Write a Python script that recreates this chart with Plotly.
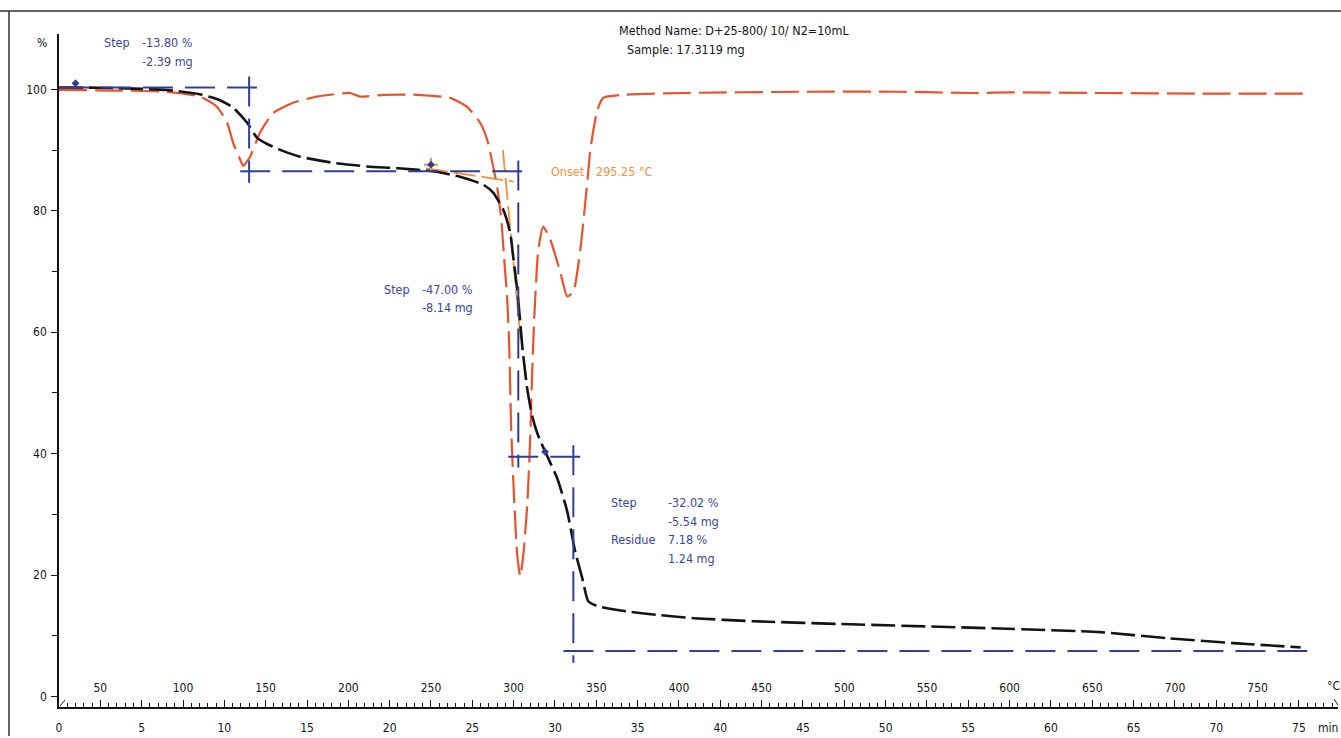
import plotly.graph_objects as go

# ---------------- data ----------------
# TGA mass-loss curve: temperature (°C) vs. mass (%)
tga_temp = [25, 35, 60, 90, 110, 120.6, 130.3, 138.8, 144.8, 150.9, 160, 170.9, 190.8,
            211.4, 230, 251.3, 267.6, 281.6, 287.6, 293.7, 297.9, 299.7, 302.1, 304.0,
            305.2, 308.2, 311.2, 314.9, 320.3, 326.4, 332.4, 337.2, 341.5, 345.1, 350.6,
            368.7, 388.7, 408.7, 445.0, 503.7, 594.4, 654.9, 695.4, 735.3, 776]
tga_mass = [100.3, 100.3, 100.2, 99.9, 99.2, 98.4, 97.0, 94.5, 92.0, 91.0, 89.9, 88.9, 87.9,
            87.3, 87.0, 86.5, 85.6, 84.3, 83.0, 80.2, 76.4, 72.5, 67.1, 61.6,
            57.7, 50.7, 46.2, 42.9, 39.6, 35.9, 30.5, 23.9, 19.5, 15.7, 14.9,
            14.0, 13.4, 12.9, 12.4, 11.9, 11.2, 10.6, 9.6, 8.8, 8.1]

# DTG curve (scaled onto the same % axis)
dtg_temp = [25, 60, 90, 110.4, 120.6, 126.7, 130.3, 134.6, 136.4, 140.6, 146.6, 154.5,
            166.6, 181.1, 201.0, 207.2, 221.1, 241.6, 261.6, 271.9, 279.7, 284.0, 287.6,
            290.0, 292.5, 294.3, 296.1, 297.3, 298.5, 300.4, 302.2, 304.0, 305.8, 308.2,
            310.0, 311.2, 312.4, 314.9, 317.9, 322.1, 328.2, 332.4, 336.1, 340.3, 344.5,
            346.4, 350.6, 354.2, 366.3, 402.6, 473.4, 533.9, 579, 600, 654.9, 715.4, 778]
dtg_val = [99.9, 99.8, 99.6, 98.8, 97.1, 94.5, 91.2, 88.4, 87.4, 88.9, 92.9, 96.1,
           97.8, 98.8, 99.4, 98.8, 99.1, 99.1, 98.6, 97.1, 94.5, 91.7, 87.3,
           84.0, 78.6, 72.0, 65.4, 58.0, 44.1, 31.8, 23.2, 19.8, 23.2, 31.4,
           42.4, 53.4, 62.1, 73.6, 77.4, 75.3, 69.9, 65.9, 66.6, 73.6, 84.6,
           90.1, 96.6, 98.6, 99.1, 99.4, 99.6, 99.6, 99.4, 99.5, 99.4, 99.3, 99.3]

# Onset construction (tangents) and result
onset_temp = 295.25
base_tan_temp = [247, 300]
base_tan_pct = [87.0, 84.8]
slope_tan_temp = [293.5, 304.5]
slope_tan_pct = [90.0, 58.0]

# Step evaluation
start_level = 100.3
step_pct = [-13.80, -47.00, -32.02]
step_mg = [-2.39, -8.14, -5.54]
step_temp = [140.0, 302.8, 336.1]
residue_pct = 7.18
residue_mg = 1.24

method_name = "Method Name: D+25-800/ 10/ N2=10mL"
sample_text = "Sample: 17.3119 mg"

# axis ticks
pct_ticks = [0, 20, 40, 60, 80, 100]
pct_minor = [10, 30, 50, 70, 90]
min_labels = list(range(0, 80, 5))
temp_ticks = list(range(50, 800, 50))

# ---------------- styling ----------------
FONT = "DejaVu Sans Condensed, Liberation Sans Narrow, Arial Narrow, sans-serif"
BLACK = "#141414"
RED = "#E9532B"
BLUE = "#2F3E97"
TXT_BLUE = "#3A4899"
ORANGE = "#F2913A"
TXT = 12.5
TICK = 12

W, H = 1341, 738
L, R, T, B = 59, 3, 34, 29
PW, PH = W - L - R, H - T - B


def px(x):
    return (x - L) / PW


def py(y):
    return (H - B - y) / PH


levels = [start_level]
for s in step_pct:
    levels.append(levels[-1] + s)

# minutes axis span; the programme heats at 10 °C/min from 25 °C
RATE, T0 = 10, 25
tmin_range = [0, (W - R - L) / 16.533]
temp_range = [T0 + RATE * tmin_range[0], T0 + RATE * tmin_range[1]]

# long ticks at every labelled minute and every labelled temperature
long_ticks = sorted(set(min_labels) | {(t - T0) / RATE for t in temp_ticks})
long_text = [str(int(v)) if v in min_labels else "" for v in long_ticks]

fig = go.Figure()

# time axis carrier (no visible marks)
fig.add_trace(go.Scatter(x=tmin_range, y=[None, None], xaxis="x", yaxis="y",
                         mode="lines", hoverinfo="skip", showlegend=False))

# DTG
fig.add_trace(go.Scatter(
    x=dtg_temp, y=dtg_val, xaxis="x2", yaxis="y", mode="lines",
    line=dict(color=RED, width=2.2, dash="28px,8px", shape="spline", smoothing=0.5),
    hoverinfo="skip", showlegend=False))

# onset tangents
fig.add_trace(go.Scatter(
    x=base_tan_temp, y=base_tan_pct, xaxis="x2", yaxis="y", mode="lines",
    line=dict(color=ORANGE, width=1.8, dash="22px,6px"), showlegend=False))
fig.add_trace(go.Scatter(
    x=slope_tan_temp, y=slope_tan_pct, xaxis="x2", yaxis="y", mode="lines",
    line=dict(color=ORANGE, width=1.8, dash="22px,6px"), showlegend=False))

# TGA
fig.add_trace(go.Scatter(
    x=tga_temp, y=tga_mass, xaxis="x2", yaxis="y", mode="lines",
    line=dict(color=BLACK, width=2.6, dash="24px,6px", shape="spline", smoothing=0.5),
    hoverinfo="skip", showlegend=False))

# step construction lines
step_h = [
    (25, 145.5, levels[0]),
    (134.6, 308.2, levels[1]),
    (296.7, 341.5, levels[2]),
    (330.1, 780, levels[3]),
]
step_v = [
    (step_temp[0], levels[0] + 1.8, levels[1] - 1.9),
    (step_temp[1], levels[1] + 1.8, levels[2] - 1.8),
    (step_temp[2], levels[2] + 1.9, levels[3] - 1.9),
]
for x0, x1, yv in step_h:
    fig.add_shape(type="line", xref="x2", yref="y", x0=x0, x1=x1, y0=yv, y1=yv,
                  line=dict(color=BLUE, width=2, dash="30px,12px"))
for xv, y0, y1 in step_v:
    fig.add_shape(type="line", xref="x2", yref="y", x0=xv, x1=xv, y0=y0, y1=y1,
                  line=dict(color=BLUE, width=2, dash="30px,12px"))

# evaluation markers
fig.add_trace(go.Scatter(
    x=[base_tan_temp[0] + 3], y=[base_tan_pct[0] + 0.6], xaxis="x2", yaxis="y",
    mode="markers", marker=dict(symbol="cross-thin", size=10,
                                line=dict(color=ORANGE, width=2)),
    showlegend=False))
fig.add_trace(go.Scatter(
    x=[35, base_tan_temp[0] + 3, 319, 800],
    y=[101.0, base_tan_pct[0] + 0.6, levels[2] + 0.8, levels[3] + 0.5],
    xaxis="x2", yaxis="y", mode="markers",
    marker=dict(symbol="diamond", size=6, color=BLUE), cliponaxis=False,
    showlegend=False))

# ---------------- text ----------------
ann = []


def text(x, y, lines, color=TXT_BLUE, size=TXT, anchor="left", gap=18.7):
    if isinstance(lines, str):
        lines = [lines]
    for i, s in enumerate(lines):
        ann.append(dict(x=px(x), y=py(y + i * gap), xref="paper", yref="paper", text=s,
                        showarrow=False, xanchor=anchor, yanchor="middle",
                        font=dict(family=FONT, size=size, color=color)))


text(42, 43, "%", BLACK, TICK, "center")
text(102, 43, "Step")
text(140, 43, [f"{step_pct[0]:.2f} %", f"{step_mg[0]:.2f} mg"])
text(382, 290, "Step")
text(420, 290, [f"{step_pct[1]:.2f} %", f"{step_mg[1]:.2f} mg"])
text(609, 504, ["Step", "", "Residue"])
text(666, 504, [f"{step_pct[2]:.2f} %", f"{step_mg[2]:.2f} mg",
                f"{residue_pct:.2f} %", f"{residue_mg:.2f} mg"])
text(549, 172, "Onset", ORANGE)
text(594, 172, f"{onset_temp:.2f} °C", ORANGE)
text(617, 30, [method_name], BLACK, TXT)
text(625, 50, [sample_text], BLACK, TXT)
text(1328, 730, "min", BLACK, TICK, "center")
text(1333, 688, "°C", BLACK, TICK, "center")
ann = [a for a in ann if a["text"]]

# frame lines around the figure panel
shapes_extra = [
    dict(type="line", xref="paper", yref="paper", x0=px(0), x1=px(W), y0=py(11), y1=py(11),
         line=dict(color="#333333", width=1.5)),
    dict(type="line", xref="paper", yref="paper", x0=px(9), x1=px(9), y0=py(11), y1=py(H),
         line=dict(color="#333333", width=1.5)),
    # axis break marks
    dict(type="line", xref="paper", yref="paper", x0=px(60), x1=px(65), y0=py(708), y1=py(702),
         line=dict(color=BLACK, width=1)),
    dict(type="line", xref="paper", yref="paper", x0=px(1334), x1=px(1338), y0=py(701), y1=py(707),
         line=dict(color=BLACK, width=1)),
]
for s in shapes_extra:
    fig.add_shape(**s)

# y scale: 0 % at 698.5 px, 6.09 px per %
y_lo = -((H - B) - 698.5) / 6.09
y_hi = (698.5 - T) / 6.09

fig.update_layout(
    width=W, height=H,
    margin=dict(l=L, r=R, t=T, b=B, pad=0),
    paper_bgcolor="white", plot_bgcolor="white",
    showlegend=False,
    annotations=ann,
    font=dict(family=FONT, size=TICK, color=BLACK),
    xaxis=dict(
        range=tmin_range, tickmode="array", tickvals=long_ticks, ticktext=long_text,
        ticks="inside", ticklen=7, tickwidth=1, tickcolor=BLACK,
        showline=True, linecolor=BLACK, linewidth=1.5,
        showgrid=False, zeroline=False, ticklabelstandoff=9,
        tickfont=dict(family=FONT, size=TICK, color=BLACK),
        minor=dict(tickmode="linear", tick0=0, dtick=0.5, ticks="inside",
                   ticklen=4, tickcolor=BLACK, showgrid=False),
    ),
    # temperature scale, labels only, printed just above the time axis
    xaxis2=dict(
        range=temp_range, overlaying="x", anchor="free", position=py(681), side="bottom",
        tickmode="array", tickvals=temp_ticks, ticks="",
        ticklabelstandoff=0,
        showline=False, showgrid=False, zeroline=False,
        tickfont=dict(family=FONT, size=TICK, color=BLACK),
    ),
    yaxis=dict(
        range=[y_lo, y_hi], tickmode="array", tickvals=pct_ticks,
        ticks="outside", ticklen=6, tickwidth=1, tickcolor=BLACK,
        showline=True, linecolor=BLACK, linewidth=1.5,
        showgrid=False, zeroline=False, ticklabelstandoff=2,
        tickfont=dict(family=FONT, size=TICK, color=BLACK),
        minor=dict(tickmode="array", tickvals=pct_minor, ticks="outside",
                   ticklen=5, tickcolor=BLACK, showgrid=False),
    ),
)

fig.write_html("out.html")
